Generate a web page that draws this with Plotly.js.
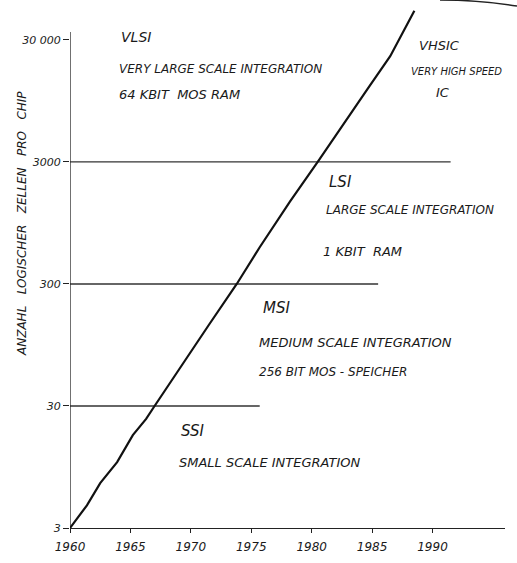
<!DOCTYPE html>
<html>
<head>
<meta charset="utf-8">
<script src="https://cdn.plot.ly/plotly-3.0.1.min.js"></script>
<style>html,body{margin:0;padding:0;background:#fff;}#chart{width:517px;height:563px;}</style>
</head>
<body>
<div id="chart"></div>
<script>
// Trend line
var years = [1960, 1961.4, 1962.5, 1963.9, 1965.2, 1966.3, 1967.0, 1969.5, 1971.5, 1973.8, 1975.7, 1978.2, 1980.5, 1984.6, 1986.5, 1988.5];
var cells = [3, 4.6, 7.0, 10.4, 17.3, 23.5, 30, 71, 139, 300, 600, 1420, 3000, 11800, 22100, 52000];

// Horizontal level lines (value, end year)
var levelValues = [30, 300, 3000];
var levelEnds = [1975.7, 1985.5, 1991.5];

// Tick labels
var yTickVals = [3, 30, 300, 3000, 30000];
var yTickText = ['3', '30', '300', '3000', '30 000'];
var xTickVals = [1960, 1965, 1970, 1975, 1980, 1985, 1990];
var xTickText = ['1960', '1965', '1970', '1975', '1980', '1985', '1990'];
var yAxisTop = 34900;

// Annotation texts
var labels = [
  'VLSI', 'VERY LARGE SCALE INTEGRATION', '64 KBIT  MOS RAM',
  'VHSIC', 'VERY HIGH SPEED', 'IC',
  'LSI', 'LARGE SCALE INTEGRATION', '1 KBIT  RAM',
  'MSI', 'MEDIUM SCALE INTEGRATION', '256 BIT MOS - SPEICHER',
  'SSI', 'SMALL SCALE INTEGRATION'
];
var yTitle = 'ANZAHL   LOGISCHER   ZELLEN   PRO   CHIP';

var FONT = 'DejaVu Sans, Liberation Sans, sans-serif';
var ink = '#1a1a1a';

var traces = [];
for (var i = 0; i < levelValues.length; i++) {
  traces.push({
    x: [1960, levelEnds[i]], y: [levelValues[i], levelValues[i]],
    mode: 'lines', line: {color: '#333', width: 1.3}, hoverinfo: 'skip', showlegend: false
  });
}
// vertical axis line (stops below the top of the plot area)
traces.push({
  x: [1960, 1960], y: [yTickVals[0], yAxisTop], mode: 'lines',
  line: {color: '#222', width: 1.3}, hoverinfo: 'skip', showlegend: false
});
traces.push({
  x: years, y: cells, mode: 'lines',
  line: {color: '#111', width: 2.2},
  showlegend: false
});

// plot box in pixels: left 70, right 505, top 8, bottom 528
function px(xp) { return (xp - 70) / 435; }
function py(yp) { return (528 - yp) / 520; }
var pos = [
  [119, 37, 14], [117, 69, 12], [117, 95, 13],
  [417, 46, 13], [409, 71, 10], [434, 93, 13],
  [327, 182, 15], [324, 210, 12], [321, 251, 13],
  [261, 308, 15], [257, 343, 13], [257, 372, 12],
  [179, 431, 15], [177, 462, 13]
];
var annotations = labels.map(function (t, k) {
  return {
    text: '<i>' + t + '</i>', xref: 'paper', yref: 'paper',
    x: px(pos[k][0]), y: py(pos[k][1]), xanchor: 'left', yanchor: 'middle',
    showarrow: false, font: {family: FONT, size: pos[k][2], color: ink}
  };
});
annotations.push({
  text: '<i>' + yTitle + '</i>', xref: 'paper', yref: 'paper',
  x: px(22), y: py(224), xanchor: 'center', yanchor: 'middle', textangle: -90,
  showarrow: false, font: {family: FONT, size: 12, color: ink}
});

var layout = {
  width: 517, height: 563,
  margin: {l: 70, r: 12, t: 8, b: 35},
  paper_bgcolor: '#fff', plot_bgcolor: '#fff',
  showlegend: false,
  xaxis: {
    range: [1960, 1996], tickvals: xTickVals,
    ticktext: xTickText.map(function (s) { return '<i>' + s + '</i>'; }),
    showgrid: false, zeroline: false, showline: true, linecolor: '#222', linewidth: 1.3,
    ticks: 'outside', ticklen: 4, tickcolor: '#222', ticklabelstandoff: 3,
    tickfont: {family: FONT, size: 12, color: ink}, tickangle: 0
  },
  yaxis: {
    type: 'log', range: [Math.log10(3), 4.739],
    tickvals: yTickVals,
    ticktext: yTickText.map(function (s) { return '<i>' + s + '</i>'; }),
    showgrid: false, zeroline: false, showline: false,
    ticks: 'outside', ticklen: 6, tickcolor: '#222',
    tickfont: {family: FONT, size: 11, color: ink}
  },
  shapes: [{
    type: 'path', xref: 'paper', yref: 'paper',
    path: 'M ' + px(440) + ',' + py(0) + ' Q ' + px(480) + ',' + py(0) + ' ' + px(517) + ',' + py(6),
    line: {color: '#222', width: 1.5}
  }],
  annotations: annotations
};

Plotly.newPlot('chart', traces, layout, {displayModeBar: false, staticPlot: true});
</script>
</body>
</html>
